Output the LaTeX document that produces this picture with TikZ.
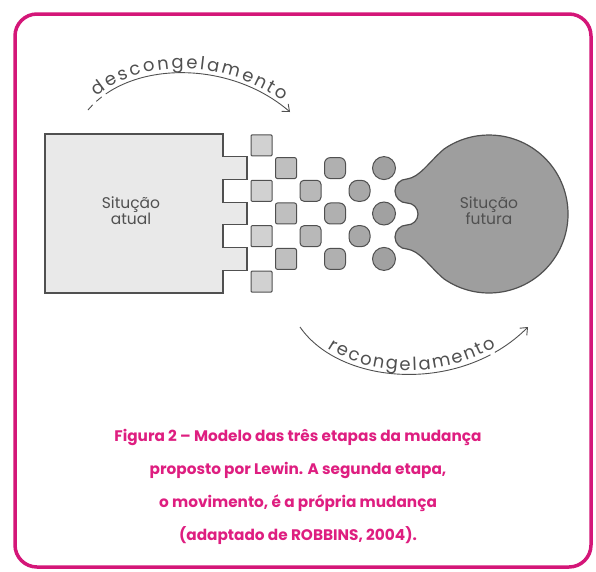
\documentclass[tikz,border=0pt]{standalone}
\usepackage{fontspec}
\setmainfont{Poppins}
\usepackage{xcolor}
\definecolor{framepink}{RGB}{212,22,120}
\definecolor{captionpink}{RGB}{222,30,128}
\definecolor{inkgray}{RGB}{80,80,80}
\definecolor{paleblock}{RGB}{233,233,233}
\definecolor{blobgray}{RGB}{158,158,158}
\usetikzlibrary{arrows.meta, decorations.text, shapes.geometric}
\tikzset{
  block/.style={draw=inkgray, line width=1.2pt, fill=paleblock},
  piece/.style={rectangle, draw=inkgray, line width=1pt,
    minimum width=21pt, minimum height=21pt, inner sep=0pt},
  phase/.style={draw=inkgray, line width=0.9pt, -{Straight Barb[length=6pt,width=10pt]}},
  blocklbl/.style={text=inkgray, font=\fontsize{15.5}{16}\selectfont, align=center},
  caption/.style={text=captionpink, font=\fontsize{15.3}{33}\selectfont\bfseries, align=center},
}

\begin{document}
\begin{tikzpicture}[
  x=1pt, y=-1pt,
  arctext/.style={decorate, font=\fontsize{18}{18}\selectfont,
    decoration={text along path, raise=4pt, text color=inkgray}}
]

\useasboundingbox (0,0) rectangle (596,571);
\draw[framepink, line width=3.5pt, rounded corners=22pt] (15,14) rectangle (591,567);

\draw[block] (45,134) -- (223,134) -- (223,156.7) -- (247,156.7) -- (247,179.4)
  -- (223,179.4) -- (223,202.1) -- (247,202.1) -- (247,224.8) -- (223,224.8)
  -- (223,247.6) -- (247,247.6) -- (247,270.3) -- (223,270.3) -- (223,293)
  -- (45,293) -- cycle;
\node[blocklbl] (atual) at (131,211) {Situção\\atual};

\foreach \cx/\rows/\rnd/\tone [count=\i] in
  {261.5/{0,2,4,6}/1/18, 286/{1,3,5}/2/25, 310.5/{2,4}/4/28,
   335/{1,3,5}/6/31, 359.5/{2,4}/9/34}
  \foreach \r in \rows
    \node[piece, rounded corners=\rnd pt, fill=black!\tone]
      (piece-\i-\r) at (\cx, {145.36+22.71*\r}) {};

\foreach \r in {1,3,5}
  \node[piece, circle, minimum size=23pt, fill=black!37] (bead-\r) at (384, {145.36+22.71*\r}) {};

\draw[block, fill=blobgray] (443.7,149.3) .. controls (428,163) and (420,177) .. (407,179)
  arc[start angle=-90, end angle=-270, radius=12]
  arc[start angle=-90, end angle=90, radius=11]
  arc[start angle=-90, end angle=-270, radius=12]
  .. controls (420,251) and (428,265) .. (443.7,278.7)
  arc[start angle=125, end angle=-125, radius=79] -- cycle;
\node[blocklbl] (futura) at (489,211) {Situção\\futura};

\coordinate (desc-a) at (88,110);
\coordinate (desc-b) at (290,112);
\draw[phase, dash pattern=on 7pt off 5pt on 7pt off 5pt on 400pt off 1pt]
  (desc-a) .. controls (130,60) and (230,60) .. (desc-b);
\path[arctext, decoration={text align={fit to path, left indent=15pt, right indent=12pt},
    text={|\fontsize{18}{18}\selectfont|descongelamento}}]
  (desc-a) .. controls (130,60) and (230,60) .. (desc-b);

\coordinate (reco-a) at (300,327);
\coordinate (reco-b) at (528,327);
\draw[phase, dash pattern=on 208pt off 5pt on 60pt off 1pt]
  (reco-a) .. controls (340,385) and (460,395) .. (reco-b);
\path[arctext, decoration={text align={fit to path, left indent=36pt, right indent=38pt},
    text={|\fontsize{18}{18}\selectfont|recongelamento}}]
  (reco-a) .. controls (340,385) and (460,395) .. (reco-b);

\node[caption] (legenda) at (298,487) {Figura 2 – Modelo das três etapas da mudança\\
  proposto por Lewin. A segunda etapa,\\
  o movimento, é a própria mudança\\
  (adaptado de ROBBINS, 2004).};

\end{tikzpicture}
\end{document}
